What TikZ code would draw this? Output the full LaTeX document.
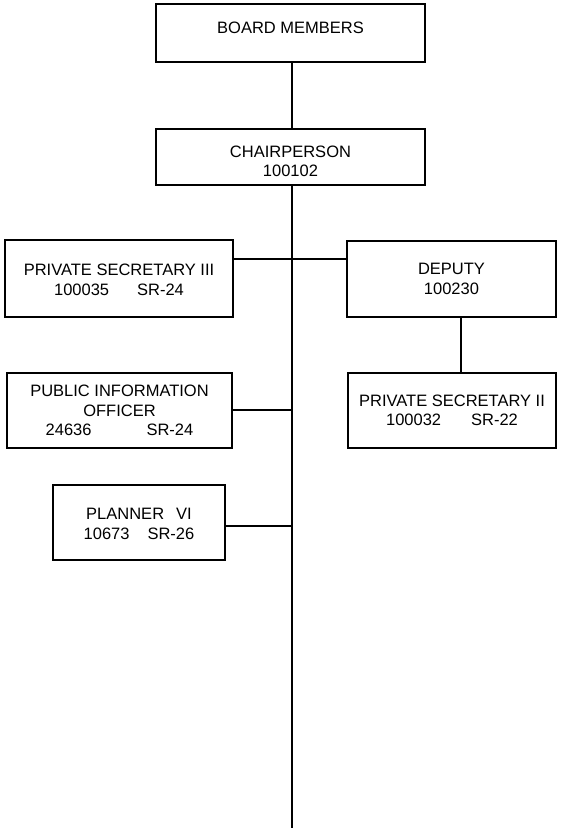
\documentclass[tikz,border=0pt]{standalone}
\usepackage{fontspec}
\setmainfont{Liberation Sans}
\begin{document}
\begin{tikzpicture}[x=1pt,y=-1pt,
  box/.style={draw, line width=1.3pt, rectangle, inner sep=0pt},
  txt/.style={align=center, font=\fontsize{16.5}{19.5}\selectfont, inner sep=0pt},
  conn/.style={line width=1.3pt}]
\useasboundingbox[fill=white] (0,0) rectangle (561,833);
\node[box, minimum width=269pt, minimum height=58pt,
  label={[txt,yshift=5pt]center:BOARD MEMBERS}] (board) at (290.5,33) {};
\node[box, minimum width=269pt, minimum height=56pt,
  label={[txt,yshift=-4.5pt]center:CHAIRPERSON\\100102}] (chair) at (290.5,157) {};
\node[box, minimum width=228pt, minimum height=77pt,
  label={[txt,yshift=-1.5pt]center:PRIVATE SECRETARY III\\100035\hspace{28pt}SR-24}] (ps3) at (119,278.5) {};
\node[box, minimum width=209pt, minimum height=76pt,
  label={[txt]center:DEPUTY\\100230}] (dep) at (451.5,279) {};
\node[box, minimum width=225pt, minimum height=75pt,
  label={[txt]center:PUBLIC INFORMATION\\OFFICER\\24636\hspace{55pt}SR-24}] (pio) at (119.5,410.5) {};
\node[box, minimum width=208pt, minimum height=75pt,
  label={[txt]center:PRIVATE SECRETARY II\\100032\hspace{30pt}SR-22}] (ps2) at (452,410.5) {};
\node[box, minimum width=172pt, minimum height=75pt,
  label={[txt,yshift=-1.5pt]center:PLANNER\hspace{12pt}VI\\10673\hspace{18pt}SR-26}] (plan) at (139,522.5) {};
\coordinate (bot) at (292,828);
\coordinate (c1) at (0,259);
\coordinate (c2) at (461,0);
\coordinate (c3) at (0,526);
\coordinate (c4) at (0,410);
\draw[conn] (board.south -| bot) -- (chair.north -| bot);
\draw[conn] (chair.south -| bot) -- (bot);
\draw[conn] (ps3.east |- c1) -- (dep.west |- c1);
\draw[conn] (pio.east |- c4) -- (bot |- c4);
\draw[conn] (plan.east |- c3) -- (bot |- c3);
\draw[conn] (dep.south -| c2) -- (ps2.north -| c2);
\end{tikzpicture}
\end{document}
